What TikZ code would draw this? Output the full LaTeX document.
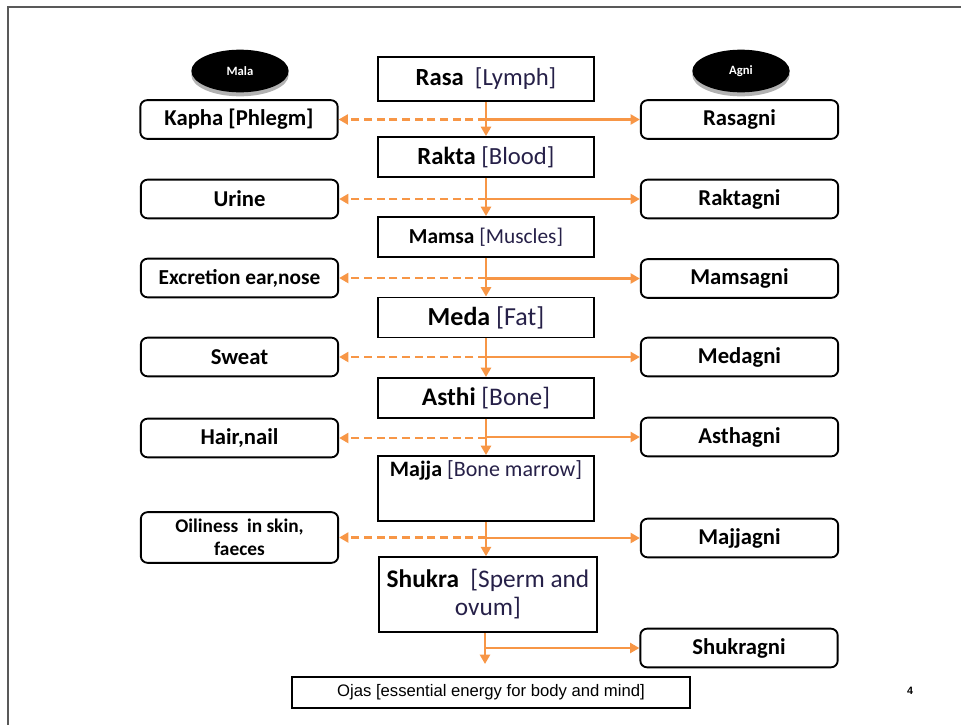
\documentclass[tikz,border=0pt]{standalone}
\usepackage{fontspec}
\setmainfont{Carlito}
\newfontfamily\arialfont{Liberation Sans}
\usetikzlibrary{arrows.meta,shapes.geometric}

\definecolor{flow}{RGB}{247,150,70}
\definecolor{gloss}{RGB}{38,32,72}
\newcommand{\gl}[1]{{\mdseries\color{gloss}#1}}
\newcommand{\fs}[1]{\fontsize{#1}{#1}\selectfont}

\begin{document}
\begin{tikzpicture}[x=0.75pt,y=0.75pt,yscale=-1,xscale=1,
    dhatu/.style={draw, line width=1.4pt, rectangle, minimum width=162pt, minimum height=30pt, inner sep=0pt, font=\bfseries\fs{18.5}},
    side/.style={draw, line width=1.4pt, rounded corners=5pt, minimum width=148pt, minimum height=29pt, inner sep=0pt, align=center, font=\bfseries\fs{17}},
    tag/.style={ellipse, fill=black, text=white, minimum width=73pt, minimum height=32pt, inner sep=0pt, font=\bfseries\fs{9.5},
        preaction={fill=black!30, transform canvas={yshift=-3pt}}},
    feed/.style={draw=flow, line width=2pt, -{Triangle[length=7pt,width=7.5pt]}},
    waste/.style={feed, dash pattern=on 6pt off 3.5pt},
]
    \useasboundingbox (0,0) rectangle (961,725);
    \draw[line width=1.6pt, black!65] (8,725) -- (8,7) -- (961,7);

    % headings
    \node[tag] (mala) at (240,71) {Mala};
    \node[tag] (agni) at (741,71) {Agni};

    % dhatus down the middle
    \node[dhatu, minimum height=33pt] (rasa) at (486,79) {Rasa\ \ \gl{[Lymph]}};
    \node[dhatu] (rakta) at (486,157) {Rakta \gl{[Blood]}};
    \node[dhatu, font=\bfseries\fs{16}] (mamsa) at (486,237) {Mamsa \gl{[Muscles]}};
    \node[dhatu, font=\bfseries\fs{19.5}] (meda) at (486,317.5) {Meda \gl{[Fat]}};
    \node[dhatu, font=\bfseries\fs{19}] (asthi) at (486,398) {Asthi \gl{[Bone]}};
    \node[dhatu, minimum height=48.75pt,
        label={[anchor=north, inner sep=4pt, font=\bfseries\fs{16.5}]north:{Majja \gl{[Bone marrow]}}}] (majja) at (486,488.5) {};
    \node[dhatu, minimum width=163pt, minimum height=56pt, align=center, font=\bfseries\fontsize{19}{21}\selectfont] (shukra) at (488,594.5)
        {Shukra\ \ \gl{[Sperm and}\\\gl{ovum]}};
    \node[draw, line width=1.4pt, minimum width=298.5pt, minimum height=23pt, inner sep=0pt, font=\arialfont\fs{12.5}] (ojas) at (491,692.5)
        {Ojas [essential energy for body and mind]};

    % mala on the left, agni on the right
    \node[side] (kapha) at (239,119.5) {Kapha [Phlegm]};
    \node[side] (rasagni) at (739.5,119.5) {Rasagni};
    \node[side] (urine) at (239.5,199) {Urine};
    \node[side] (raktagni) at (739.5,199) {Raktagni};
    \node[side, font=\bfseries\fs{16}] (karna) at (239.5,278) {Excretion ear,nose};
    \node[side] (mamsagni) at (739.5,278.5) {Mamsagni};
    \node[side] (sweat) at (239.5,357) {Sweat};
    \node[side] (medagni) at (739.5,357) {Medagni};
    \node[side] (hair) at (239.5,438) {Hair,nail};
    \node[side] (asthagni) at (739.5,437) {Asthagni};
    \node[side, minimum height=38pt, font=\bfseries\fontsize{14.5}{17}\selectfont] (oily) at (239.5,537.5) {Oiliness\ \ in skin,\\faeces};
    \node[side] (majjagni) at (739.5,538) {Majjagni};
    \node[side] (shukragni) at (739,648) {Shukragni};

    \node[font=\arialfont\bfseries\fs{8}] (page) at (910,691) {4};

    % arrows
    \foreach \a/\b/\m/\g in {rasa/rakta/kapha/rasagni, rakta/mamsa/urine/raktagni, mamsa/meda/karna/mamsagni,
                             meda/asthi/sweat/medagni, asthi/majja/hair/asthagni, majja/shukra/oily/majjagni}{
        \draw[feed] (\a.south) -- (\a.south |- \b.north);
        \draw[waste] (\a.south |- \m.east) -- (\m.east);
        \draw[feed] (\a.south |- \g.west) -- (\g.west);
    }
    \coordinate (ojastip) at (485,664);
    \draw[feed] (ojastip |- shukra.south) -- (ojastip);
    \draw[feed] (ojastip |- shukragni.west) -- (shukragni.west);
\end{tikzpicture}
\end{document}
